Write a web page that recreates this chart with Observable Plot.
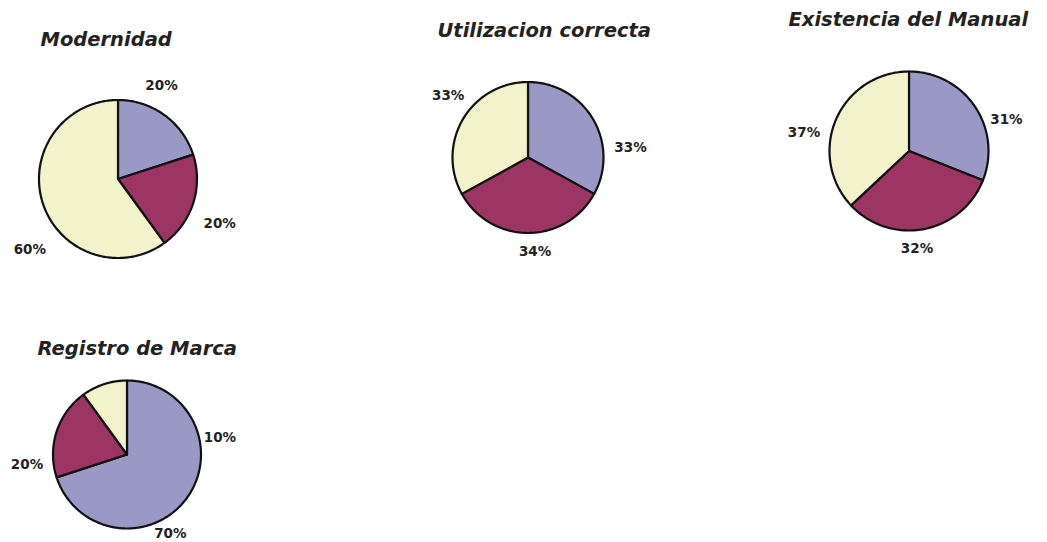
<!DOCTYPE html>
<html><head><meta charset="utf-8">
<script src="https://cdn.jsdelivr.net/npm/d3@7"></script>
<script src="https://cdn.jsdelivr.net/npm/@observablehq/plot@0.6"></script>
<style>html,body{margin:0;padding:0;background:#fff;}</style>
</head><body><div id="chart"></div>
<script>
// ---- data ----
const titles = ["Modernidad", "Utilizacion correcta", "Existencia del Manual", "Registro de Marca"];
const categories = ["Serie 1", "Serie 2", "Serie 3"];
const valuesModernidad = [20, 20, 60];
const valuesUtilizacion = [33, 34, 33];
const valuesExistencia = [31, 32, 37];
const valuesRegistro = [70, 20, 10];
const labelsModernidad = ["20%", "20%", "60%"];
const labelsUtilizacion = ["33%", "34%", "33%"];
const labelsExistencia = ["31%", "32%", "37%"];
const labelsRegistro = ["10%", "70%", "20%"];

// ---- layout / style ----
const colors = ["#9a99c5", "#9c3464", "#f2f2cb"];
const layout = [
  {cx: 117.5, cy: 178.5, r: 79,   tx: 40,  ty: 39,  la: [25, 113.7, 231.3],  ld: [103, 111, 113]},
  {cx: 527.5, cy: 157,   r: 75.5, tx: 437, ty: 30,  la: [84.4, 175.7, 307.8], ld: [103, 94, 101]},
  {cx: 908.5, cy: 150.5, r: 79.5, tx: 788, ty: 19.5,la: [72, 175.3, 280],     ld: [102.5, 98, 106.6]},
  {cx: 126.5, cy: 454,   r: 74,   tx: 37,  ty: 348, la: [79.6, 151.2, 264.3], ld: [94.5, 90, 100.5]}
];
const allValues = [valuesModernidad, valuesUtilizacion, valuesExistencia, valuesRegistro];
const allLabels = [labelsModernidad, labelsUtilizacion, labelsExistencia, labelsRegistro];

const pie = d3.pie().sort(null).startAngle(0).endAngle(2 * Math.PI);
const slicePts = [];
const labelRows = [];
const titleRows = [];
allValues.forEach((vals, p) => {
  const L = layout[p];
  titleRows.push({x: L.tx, y: L.ty, text: titles[p]});
  pie(vals).forEach((a, i) => {
    const key = p + "|" + i;
    slicePts.push({key, cat: categories[i], x: L.cx, y: L.cy});
    const n = Math.max(2, Math.ceil((a.endAngle - a.startAngle) / (Math.PI / 180)));
    for (let k = 0; k <= n; k++) {
      const t = a.startAngle + (a.endAngle - a.startAngle) * k / n;
      slicePts.push({key, cat: categories[i], x: L.cx + L.r * Math.sin(t), y: L.cy - L.r * Math.cos(t)});
    }
    slicePts.push({key, cat: categories[i], x: L.cx, y: L.cy});
  });
  allLabels[p].forEach((lab, i) => {
    const t = L.la[i] * Math.PI / 180;
    labelRows.push({x: L.cx + L.ld[i] * Math.sin(t), y: L.cy - L.ld[i] * Math.cos(t), text: lab});
  });
});

const chart = Plot.plot({
  width: 1047, height: 542,
  margin: 0,
  x: {domain: [0, 1047], range: [0, 1047], axis: null},
  y: {domain: [0, 542], range: [0, 542], axis: null},
  color: {domain: categories, range: colors},
  style: {background: "#fff"},
  marks: [
    Plot.line(slicePts, {x: "x", y: "y", z: "key", fill: "cat", stroke: "#111", strokeWidth: 2.2, strokeLinejoin: "round", curve: "linear"}),
    Plot.text(titleRows, {x: "x", y: "y", text: "text", textAnchor: "start", fontSize: 19.5, fontWeight: "bold", fontStyle: "oblique", fontFamily: "DejaVu Sans", fill: "#222"}),
    Plot.text(labelRows, {x: "x", y: "y", text: "text", fontSize: 13.5, fontWeight: "bold", fontFamily: "DejaVu Sans", fill: "#222"})
  ]
});
document.getElementById("chart").appendChild(chart);
</script>
</body></html>
